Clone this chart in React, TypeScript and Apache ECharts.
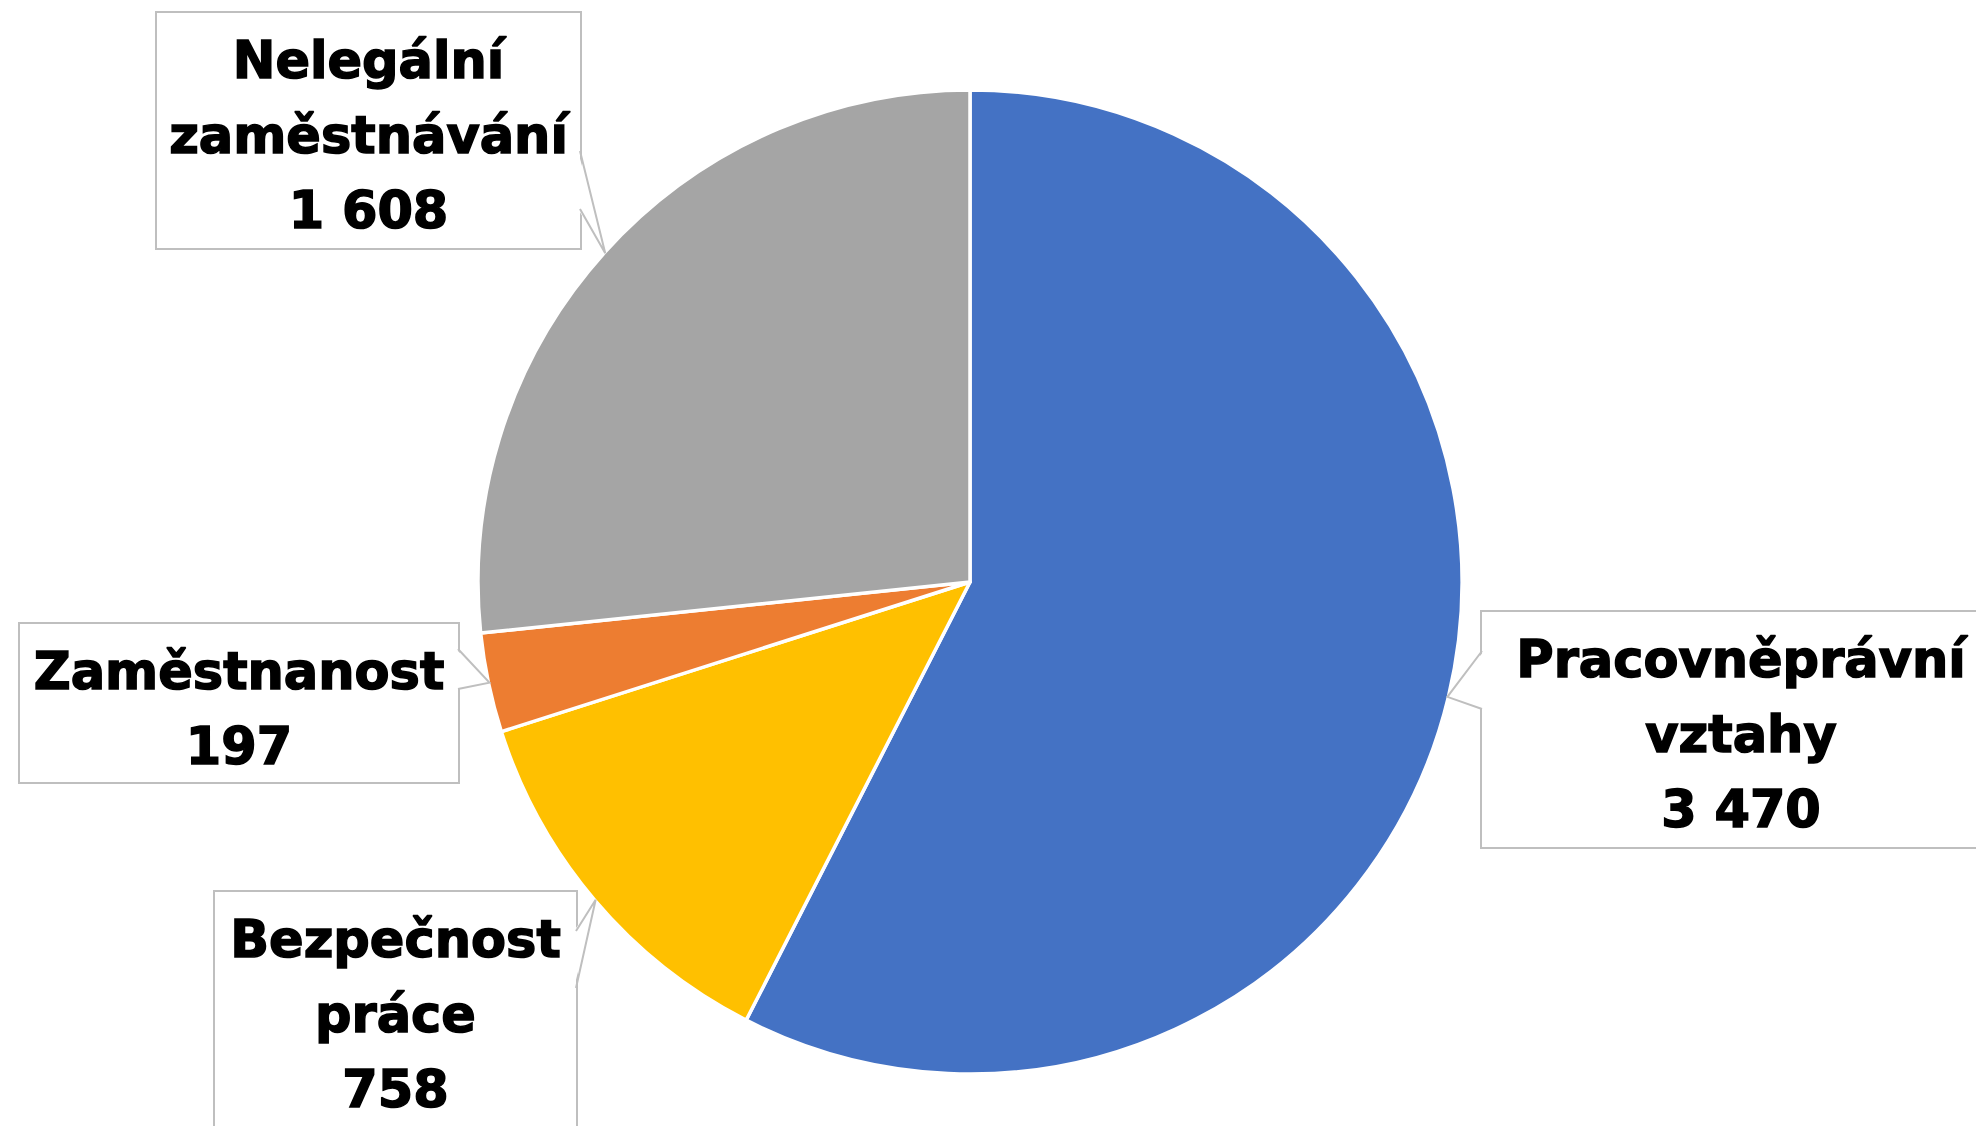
import React, { useEffect, useRef } from "react";
import * as echarts from "echarts";

// ---- data ----
const categories = [
  "Pracovněprávní\nvztahy",
  "Bezpečnost\npráce",
  "Zaměstnanost",
  "Nelegální\nzaměstnávání",
];
const values = [3470, 758, 197, 1608];
const colors = ["#4472C4", "#FFC000", "#ED7D31", "#A5A5A5"];

// ---- layout (label callout boxes) ----
const CX = 970;
const CY = 582;
const R = 492;
const boxes = [
  { x: 1482, y: 612, w: 518, h: 235, side: "left", attach: [651, 709] },
  { x: 215, y: 892, w: 361, h: 235, side: "right", attach: [931, 988] },
  { x: 20, y: 624, w: 438, h: 158, side: "right", attach: [649, 689] },
  { x: 157, y: 13, w: 423, h: 235, side: "right", attach: [151, 209] },
];

const fmt = (v: number) => String(v).replace(/\B(?=(\d{3})+(?!\d))/g, " ");

export default function App() {
  const ref = useRef<HTMLDivElement>(null);
  useEffect(() => {
    if (!ref.current) return;
    const chart = echarts.init(ref.current, undefined, { renderer: "svg" });
    const total = values.reduce((a, b) => a + b, 0);
    let cum = 0;
    const graphics: any[] = [];
    values.forEach((v, i) => {
      const mid = (cum + v / 2) / total;
      cum += v;
      const th = mid * Math.PI * 2;
      const ax = CX + (R - 1) * Math.sin(th);
      const ay = CY - (R - 1) * Math.cos(th);
      const b = boxes[i];
      const edgeX = b.side === "left" ? b.x : b.x + b.w;
      const inward = b.side === "left" ? 2 : -2;
      graphics.push({
        type: "polygon",
        silent: true,
        z: 100,
        shape: {
          points: [
            [edgeX + inward, b.attach[0]],
            [ax, ay],
            [edgeX + inward, b.attach[1]],
          ],
        },
        style: { fill: "#ffffff", stroke: null },
      });
      graphics.push({
        type: "polyline",
        silent: true,
        z: 101,
        shape: {
          points: [
            [edgeX, b.attach[0]],
            [ax, ay],
            [edgeX, b.attach[1]],
          ],
        },
        style: { stroke: "#BFBFBF", lineWidth: 2, fill: null },
      });
    });

    chart.setOption({
      animation: false,
      backgroundColor: "#ffffff",
      series: [
        {
          type: "pie",
          center: [CX, CY],
          radius: R,
          startAngle: 90,
          clockwise: true,
          avoidLabelOverlap: false,
          itemStyle: { borderColor: "#ffffff", borderWidth: 3.5 },
          emphasis: { disabled: true },
          labelLine: { show: false },
          label: {
            show: true,
            position: "inside",
            overflow: "none",
            color: "#000000",
            fontFamily: "DejaVu Sans",
            fontWeight: "bold",
            fontSize: 51,
            lineHeight: 75,
            textBorderColor: "#000000",
            textBorderWidth: 1.5,
            backgroundColor: "#ffffff",
            borderColor: "#BFBFBF",
            borderWidth: 2,
            padding: [10, 0, 0, 0],
            formatter: (p: any) => p.name + "\n" + fmt(p.value),
          },
          labelLayout: (params: any) => {
            const b = boxes[params.dataIndex];
            return {
              x: b.x + b.w / 2,
              y: b.y,
              align: "center",
              verticalAlign: "top",
            };
          },
          data: categories.map((c, i) => ({
            name: c,
            value: values[i],
            itemStyle: { color: colors[i] },
            label: { width: boxes[i].w, height: boxes[i].h - 10 },
          })),
        },
      ],
      graphic: graphics,
    });
    return () => chart.dispose();
  }, []);
  return (
    <div
      ref={ref}
      style={{ position: "absolute", left: 0, top: 0, width: 1976, height: 1126 }}
    />
  );
}
